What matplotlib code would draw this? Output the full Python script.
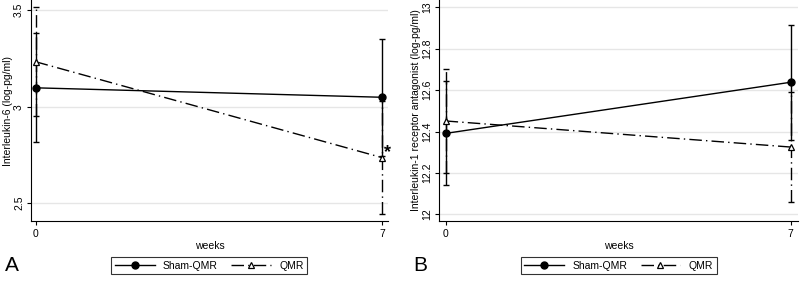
import numpy as np
from matplotlib import pyplot as plt

plt.rcParams['font.family'] = ['Liberation Sans', 'DejaVu Sans']
plt.rcParams['font.size'] = 7.5

#==============================================================================
# data
#==============================================================================
weeks = [0, 7]

# panel A: interleukin-6
il6_sham = [3.098, 3.049]
il6_sham_lo = [2.815, 2.746]
il6_sham_hi = [3.380, 3.352]
il6_qmr = [3.233, 2.736]
il6_qmr_lo = [2.950, 2.443]
il6_qmr_hi = [3.516, 3.031]

# panel B: interleukin-1 receptor antagonist
il1_sham = [12.391, 12.638]
il1_sham_lo = [12.140, 12.361]
il1_sham_hi = [12.644, 12.915]
il1_qmr = [12.451, 12.325]
il1_qmr_lo = [12.198, 12.060]
il1_qmr_hi = [12.700, 12.589]

dashdot = (0, (9, 3, 1, 3))

def panel(ax, sham, s_lo, s_hi, qmr, q_lo, q_hi, yticks, ylabel, ylim, xlim):
    #error bars (caps) as in Stata rcap
    s_err = [np.array(sham) - np.array(s_lo), np.array(s_hi) - np.array(sham)]
    q_err = [np.array(qmr) - np.array(q_lo), np.array(q_hi) - np.array(qmr)]
    ax.errorbar(weeks, sham, yerr=s_err, fmt='none', ecolor='black',
                elinewidth=1.0, capsize=2.3, capthick=1.0, zorder=3)
    e2 = ax.errorbar(weeks, qmr, yerr=q_err, fmt='none', ecolor='black',
                     elinewidth=1.0, capsize=2.3, capthick=1.0, zorder=3)
    e2[2][0].set_linestyle(dashdot)
    ax.plot(weeks, sham, color='black', lw=1.0, marker='o', ms=5,
            label='Sham-QMR', zorder=4)
    ax.plot(weeks, qmr, color='black', lw=1.0, linestyle=dashdot,
            marker='^', ms=4.5, mfc='white', mec='black', mew=0.9,
            label='QMR', zorder=4)
    ax.set_xlim(xlim)
    ax.set_ylim(ylim)
    ax.set_xticks(weeks)
    ax.set_yticks(yticks)
    ax.set_yticklabels([str(t) for t in yticks], rotation=90, va='center')
    ax.grid(axis='y', color='#e6e6e6', lw=1.0)
    ax.set_axisbelow(True)
    for s in ['top', 'right']:
        ax.spines[s].set_visible(False)
    ax.tick_params(direction='out', length=3, width=0.8, pad=2.5)
    ax.tick_params(axis='y', pad=2)
    ax.set_xlabel('weeks', labelpad=2)
    ax.set_ylabel(ylabel, labelpad=1)
    leg = ax.legend(loc='upper center', bbox_to_anchor=(0.5, -0.14), ncol=2,
                    frameon=True, fancybox=False, edgecolor='black',
                    handlelength=3.8, columnspacing=1.3, borderpad=0.35)
    leg.get_frame().set_linewidth(0.8)

fig = plt.figure(figsize=(8, 2.81), dpi=100)
axA = fig.add_axes([0.03875, 0.2135, 0.446, 0.7865])
axB = fig.add_axes([0.549, 0.2135, 0.4485, 0.7865])

panel(axA, il6_sham, il6_sham_lo, il6_sham_hi, il6_qmr, il6_qmr_lo, il6_qmr_hi,
      [2.5, 3, 3.5], 'Interleukin-6 (log-pg/ml)', (2.408, 3.553), (-0.095, 7.11))
axA.text(7.03, 2.76, '*', fontsize=13, fontweight='bold', ha='left', va='center')

panel(axB, il1_sham, il1_sham_lo, il1_sham_hi, il1_qmr, il1_qmr_lo, il1_qmr_hi,
      [12, 12.2, 12.4, 12.6, 12.8, 13], 'Interleukin-1 receptor antagonist (log-pg/ml)',
      (11.968, 13.035), (-0.13, 7.146))

fig.text(0.006, 0.055, 'A', fontsize=15, ha='left', va='center')
fig.text(0.516, 0.055, 'B', fontsize=15, ha='left', va='center')

plt.savefig('out.png', dpi=100)
